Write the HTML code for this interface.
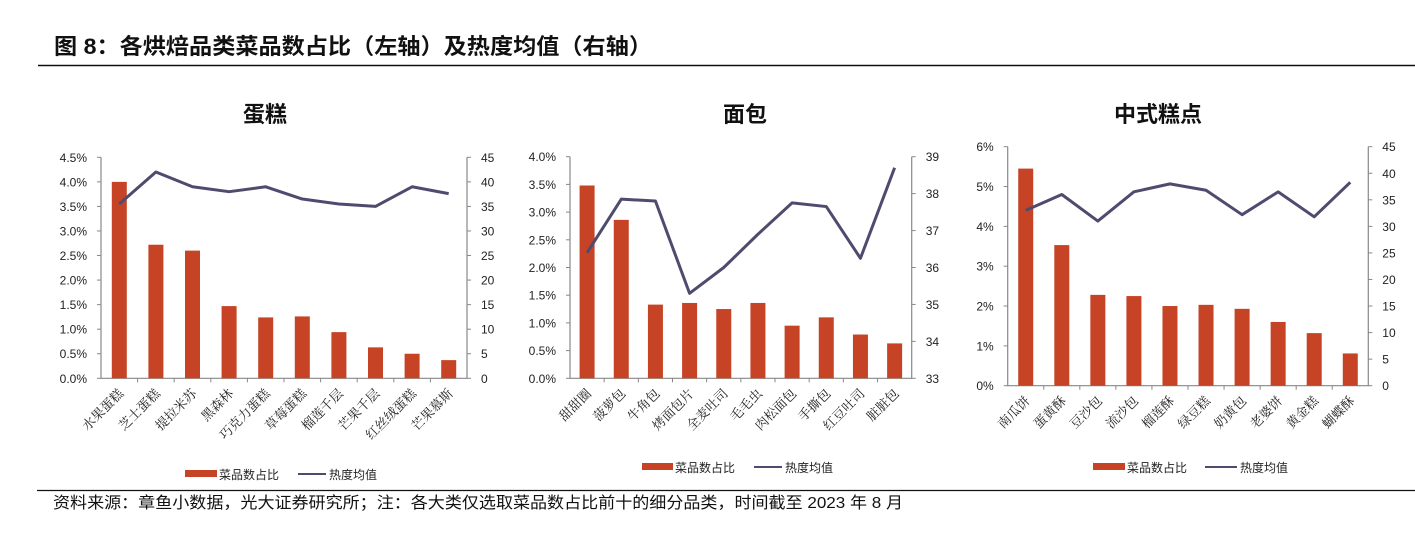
<!DOCTYPE html>
<html><head><meta charset="utf-8"><style>
body{margin:0;background:#fff;width:1415px;height:529px;overflow:hidden;font-family:"Liberation Sans","Noto Sans CJK SC",sans-serif;}
svg text{font-family:"Liberation Sans","Noto Sans CJK SC",sans-serif;}
.xl{font-family:"Liberation Serif","Noto Serif CJK SC",serif !important;font-size:13px;fill:#222;}
</style></head><body>
<svg id="s" width="1415" height="529" xmlns="http://www.w3.org/2000/svg">
<text x="54" y="54" font-size="22" font-weight="bold" fill="#111" textLength="598" lengthAdjust="spacingAndGlyphs">图 8：各烘焙品类菜品数占比（左轴）及热度均值（右轴）</text>
<line x1="38" y1="65.5" x2="1415" y2="65.5" stroke="#111" stroke-width="1.5"/>
<line x1="37" y1="490.5" x2="1415" y2="490.5" stroke="#111" stroke-width="1.2"/>
<text x="53" y="508" font-size="16" fill="#111" textLength="850" lengthAdjust="spacingAndGlyphs">资料来源：章鱼小数据，光大证券研究所；注：各大类仅选取菜品数占比前十的细分品类，时间截至 2023 年 8 月</text>
</svg>
<script>
const cakeCats=["水果蛋糕","芝士蛋糕","提拉米苏","黑森林","巧克力蛋糕","草莓蛋糕","榴莲千层","芒果千层","红丝绒蛋糕","芒果慕斯"];
const cakeShare=[4.0,2.72,2.6,1.47,1.24,1.26,0.94,0.63,0.50,0.37];
const cakeHeat=[35.5,42,39,38,39,36.5,35.5,35,39,37.6];
const cakeLeftTicks=["0.0%","0.5%","1.0%","1.5%","2.0%","2.5%","3.0%","3.5%","4.0%","4.5%"];
const cakeRightTicks=["0","5","10","15","20","25","30","35","40","45"];
const breadCats=["甜甜圈","菠萝包","牛角包","烤面包片","全麦吐司","毛毛虫","肉松面包","手撕包","红豆吐司","脏脏包"];
const breadShare=[3.48,2.86,1.33,1.36,1.25,1.36,0.95,1.10,0.79,0.63];
const breadHeat=[36.4,37.85,37.8,35.3,36.0,36.9,37.75,37.65,36.25,38.7];
const breadLeftTicks=["0.0%","0.5%","1.0%","1.5%","2.0%","2.5%","3.0%","3.5%","4.0%"];
const breadRightTicks=["33","34","35","36","37","38","39"];
const cnCats=["南瓜饼","蛋黄酥","豆沙包","流沙包","榴莲酥","绿豆糕","奶黄包","老婆饼","黄金糕","蝴蝶酥"];
const cnShare=[5.45,3.53,2.28,2.25,2.0,2.03,1.93,1.6,1.32,0.81];
const cnHeat=[33,36,31,36.5,38,36.8,32.2,36.5,31.8,38.3];
const cnLeftTicks=["0%","1%","2%","3%","4%","5%","6%"];
const cnRightTicks=["0","5","10","15","20","25","30","35","40","45"];

const NS="http://www.w3.org/2000/svg";
const svg=document.getElementById('s');
function mk(tag,attrs,parent){const e=document.createElementNS(NS,tag);for(const k in attrs)e.setAttribute(k,attrs[k]);(parent||svg).appendChild(e);return e;}

function chart(cfg){
  const g=mk('g',{});
  
  
  const {x0,x1,yT,yB,lmin,lmax,rmin,rmax}=cfg;
  const yl=v=>yB-(v-lmin)/(lmax-lmin)*(yB-yT);
  const yr=v=>yB-(v-rmin)/(rmax-rmin)*(yB-yT);
  const n=cfg.cats.length, cw=(x1-x0)/n;
  const xc=i=>x0+cw*(i+0.5);
  const t=mk('text',{x:cfg.tx,y:cfg.ty,'font-size':22,'font-weight':'bold','text-anchor':'middle',fill:'#111'},g);
  t.textContent=cfg.title;
  
  
  const ax=mk('path',{d:`M${x0},${yT}V${yB}H${x1}V${yT}`,stroke:'#888',fill:'none','stroke-width':1.2},g);
  
  
  cfg.lt.forEach((lab,i)=>{
    const v=lmin+i*(lmax-lmin)/(cfg.lt.length-1);const y=yl(v);
    mk('line',{x1:x0-4,x2:x0,y1:y,y2:y,stroke:'#888'},g);
    const tt=mk('text',{x:x0-14,y:y+4.5,'font-size':12,'text-anchor':'end',fill:'#222'},g);
    tt.textContent=lab;
    
    
  });
  cfg.rt.forEach((lab,i)=>{
    const v=rmin+i*(rmax-rmin)/(cfg.rt.length-1);const y=yr(v);
    mk('line',{x1:x1,x2:x1+4,y1:y,y2:y,stroke:'#888'},g);
    const tt=mk('text',{x:x1+14,y:y+4.5,'font-size':12,'text-anchor':'start',fill:'#222'},g);
    tt.textContent=lab;
    
    
  });
  for(let i=1;i<n;i++) mk('line',{x1:x0+cw*i,x2:x0+cw*i,y1:yB,y2:yB+4,stroke:'#888'},g);
  cfg.share.forEach((v,i)=>{
    const b=mk('rect',{x:xc(i)-7.5,y:yl(v),width:15,height:yB-yl(v),fill:'#c64325'},g);
    
    
  });
  const pts=cfg.heat.map((v,i)=>xc(i)+','+yr(v)).join(' ');
  const pl=mk('polyline',{points:pts,fill:'none',stroke:'#4f4b6e','stroke-width':3,'stroke-linejoin':'round'},g);
  
  
  cfg.cats.forEach((c,i)=>{
    const x=xc(i)+5,y=yB+16;
    const tt=mk('text',{x:x,y:y,'text-anchor':'end',class:'xl',transform:`rotate(-45 ${x} ${y})`},g);
    tt.textContent=c;
    
    
  });
  const L=cfg.leg;
  const lr=mk('rect',{x:L.x,y:L.y-7,width:L.w,height:7,fill:'#c64325'},g);
  
  
  const lt1=mk('text',{x:L.x+L.w+2,y:L.y+2,'font-size':12,fill:'#222',textLength:L.t1,lengthAdjust:'spacingAndGlyphs'},g);
  lt1.textContent='菜品数占比';
  
  
  mk('line',{x1:L.lx,x2:L.lx+L.lw,y1:L.y-3,y2:L.y-3,stroke:'#4f4b6e','stroke-width':2},g);
  const lt2=mk('text',{x:L.lx+L.lw+3,y:L.y+2,'font-size':12,fill:'#222',textLength:L.t2,lengthAdjust:'spacingAndGlyphs'},g);
  lt2.textContent='热度均值';
  
  
}
chart({name:'cake-chart',title:'蛋糕',tx:265,ty:122,x0:101,x1:467,yT:157.3,yB:378.3,lmin:0,lmax:4.5,rmin:0,rmax:45,lt:cakeLeftTicks,rt:cakeRightTicks,cats:cakeCats,share:cakeShare,heat:cakeHeat,leg:{x:185,y:477,w:32,lx:298,lw:28,t1:60,t2:48}});
chart({name:'bread-chart',title:'面包',tx:745,ty:122,x0:570,x1:911.7,yT:156.7,yB:378.3,lmin:0,lmax:4,rmin:33,rmax:39,lt:breadLeftTicks,rt:breadRightTicks,cats:breadCats,share:breadShare,heat:breadHeat,leg:{x:642,y:470,w:31,lx:754,lw:28,t1:60,t2:48}});
chart({name:'chinese-pastry-chart',title:'中式糕点',tx:1158,ty:122,x0:1007.7,x1:1368.3,yT:146.7,yB:385.7,lmin:0,lmax:6,rmin:0,rmax:45,lt:cnLeftTicks,rt:cnRightTicks,cats:cnCats,share:cnShare,heat:cnHeat,leg:{x:1093,y:470,w:32,lx:1205,lw:32,t1:60,t2:48}});
</script>
</body></html>
